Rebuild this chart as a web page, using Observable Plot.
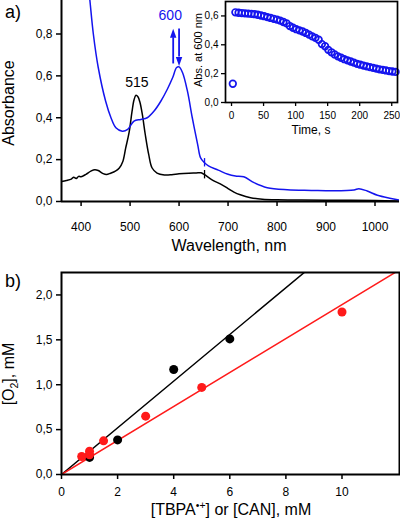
<!DOCTYPE html>
<html><head><meta charset="utf-8">
<script src="https://cdn.jsdelivr.net/npm/d3@7"></script>
<script src="https://cdn.jsdelivr.net/npm/@observablehq/plot@0.6"></script>
<style>
body{margin:0;background:#fff;font-family:"Liberation Sans",Arial,sans-serif;}
#wrap{position:relative;width:400px;height:521px;overflow:hidden;background:#fff;}
#wrap svg{position:absolute;overflow:visible;}
.t{position:absolute;white-space:nowrap;line-height:1;color:#000;font-family:"Liberation Sans",Arial,sans-serif;}
sub,sup{font-size:0.65em;line-height:0;}
</style></head><body><div id="wrap"></div>
<script>
// ---------- Panel a: spectra ----------
const wlBlack = [360,370,380,385,390,395,400,410,420,428,435,445,452,460,470,478,485,491,498,504,508,512,516,520,525,531,538,545,555,570,585,600,620,635,645,652,660,670,685,700,712,725,746,770,800,850,900,950,1000,1050];
const absBlack = [0.095,0.100,0.107,0.116,0.110,0.120,0.118,0.130,0.145,0.152,0.148,0.133,0.129,0.135,0.145,0.160,0.190,0.255,0.330,0.430,0.485,0.507,0.500,0.475,0.416,0.320,0.225,0.160,0.136,0.127,0.128,0.132,0.135,0.136,0.137,0.128,0.115,0.100,0.083,0.062,0.045,0.032,0.018,0.011,0.008,0.007,0.006,0.006,0.005,0.002];
const wlBlue = [410,418,425,435,450,461,471,484,495,508,522,535,549,563,576,587,595,600,607,617,627,638,644,652,660,680,700,715,732,753,780,821,870,916,957,967,984,1005,1030,1050];
const absBlue = [1.15,0.96,0.80,0.64,0.48,0.40,0.352,0.336,0.344,0.384,0.392,0.400,0.432,0.480,0.536,0.592,0.640,0.643,0.616,0.528,0.400,0.272,0.208,0.185,0.170,0.150,0.130,0.122,0.118,0.090,0.066,0.056,0.053,0.051,0.055,0.061,0.050,0.030,0.016,0.007];
const cutWl = [652];             // small cut marks on both spectra
const cutBlack = [0.128], cutBlue = [0.185];
const aXDomain = [360, 1050], aYDomain = [0, 0.96];
const aXTicks = [400,500,600,700,800,900,1000];
const aYTicks = [0,0.2,0.4,0.6,0.8];
const peakLabels = ["515","600"], peakLabelWl = [514, 582], peakLabelAbs = [0.566, 0.888];
const arrowWl = [588, 600], arrowFrom = [0.657, 0.824], arrowTo = [0.782, 0.690], arrowDir = [0, 180];

// ---------- Inset: Abs at 600 nm vs time ----------
const time = [2,6,11,16,21,26,31,36,41,46,51,56,61,66,71,76,81,86,91,96,101,106,111,116,121,126,131,136,141,146,151,156,161,166,171,176,181,186,191,196,201,206,211,216,221,226,231,236,241,246,251,256];
const abs600 = [0.130,0.625,0.622,0.620,0.618,0.616,0.614,0.612,0.608,0.603,0.598,0.592,0.586,0.580,0.574,0.567,0.558,0.548,0.530,0.518,0.508,0.500,0.492,0.482,0.470,0.458,0.448,0.435,0.405,0.390,0.365,0.348,0.333,0.320,0.310,0.300,0.292,0.284,0.276,0.268,0.262,0.256,0.250,0.245,0.240,0.235,0.230,0.226,0.222,0.218,0.215,0.212];
const inXDomain = [-9.4, 259], inYDomain = [0, 0.70];
const inXTicks = [0,50,100,150,200,250], inYTicks = [0,0.2,0.4,0.6];

// ---------- Panel b: O2 vs oxidant ----------
const tbpaConc = [1,1,2,4,6];
const tbpaO2 = [0.19,0.21,0.385,1.17,1.51];
const canConc = [0.72,1,1,1.5,3,5,10];
const canO2 = [0.20,0.22,0.26,0.375,0.65,0.97,1.81];
const fitConc = [0, 12];
const tbpaFit = [0, 3.12];
const canFit = [0, 2.27];
const bXDomain = [0, 12.05], bYDomain = [0, 2.25];
const bXTicks = [0,2,4,6,8,10], bYTicks = [0,0.5,1,1.5,2];

const BLUE = "#1414ee", RED = "#ff1a1a";
const comma = d => d.toFixed(1).replace(".", ",");
const plain = d => String(d);
const font = {fontFamily:"'Liberation Sans', Arial, sans-serif", fontSize:"12px", color:"#000", background:"transparent", overflow:"visible"};
const wrap = document.getElementById("wrap");
const zip = (xs, ys) => xs.map((x,i)=>({x, y: ys[i]}));

const headUp = {draw(ctx){ ctx.moveTo(0,-9); ctx.lineTo(3.2,0); ctx.lineTo(-3.2,0); ctx.closePath(); }};

const pa = Plot.plot({
  width:400, height:260, marginLeft:61, marginRight:1, marginTop:0, marginBottom:59,
  x:{domain:aXDomain}, y:{domain:aYDomain}, style:font,
  marks:[
    Plot.axisX({ticks:aXTicks, tickFormat:plain, tickSize:5, tickPadding:16, strokeWidth:1.5, label:null, fontSize:12}),
    Plot.axisY({ticks:aYTicks, tickFormat:comma, tickSize:5, tickPadding:4, strokeWidth:1.5, label:null, fontSize:12}),
    Plot.line(zip(wlBlack, absBlack), {x:"x", y:"y", stroke:"#000", strokeWidth:1.5, curve:"catmull-rom", clip:true}),
    Plot.line(zip(wlBlue, absBlue), {x:"x", y:"y", stroke:BLUE, strokeWidth:1.5, curve:"catmull-rom", clip:true}),
    Plot.ruleX(zip(cutWl, cutBlack), {x:"x", y1:d=>d.y-0.02, y2:d=>d.y+0.02, stroke:"#000", strokeWidth:1.3}),
    Plot.ruleX(zip(cutWl, cutBlue), {x:"x", y1:d=>d.y-0.02, y2:d=>d.y+0.02, stroke:BLUE, strokeWidth:1.3}),
    Plot.text(peakLabels.map((t,i)=>({t, x:peakLabelWl[i], y:peakLabelAbs[i]})), {x:"x", y:"y", text:"t", fontSize:14, fill:(d,i)=> i===0 ? "#000" : BLUE}),
    Plot.ruleX(arrowWl.map((x,i)=>({x, y1:arrowFrom[i], y2:arrowTo[i]})), {x:"x", y1:"y1", y2:"y2", stroke:BLUE, strokeWidth:1.8}),
    Plot.dot(arrowWl.map((x,i)=>({x, y:arrowTo[i], r:arrowDir[i]})), {x:"x", y:"y", symbol:headUp, r:4, fill:BLUE, stroke:"none", rotate:"r"}),
    Plot.ruleX([aXDomain[0]], {strokeWidth:2}),
    Plot.ruleY([aYDomain[0]], {strokeWidth:2})
  ]
});
pa.style.left="0px"; pa.style.top="0px";
wrap.appendChild(pa);

const pi = Plot.plot({
  width:215, height:140, marginLeft:40, marginRight:3, marginTop:1, marginBottom:38,
  x:{domain:inXDomain}, y:{domain:inYDomain}, style:{...font, fontSize:"10px"},
  marks:[
    Plot.axisX({ticks:inXTicks, tickFormat:plain, tickSize:4, tickPadding:5, strokeWidth:1.3, label:null, fontSize:10}),
    Plot.axisY({ticks:inYTicks, tickFormat:comma, tickSize:4, tickPadding:3, strokeWidth:1.3, label:null, fontSize:10}),
    Plot.dot(zip(time, abs600), {x:"x", y:"y", r:3.3, stroke:BLUE, strokeWidth:1.7, fill:"none"}),
    Plot.frame({strokeWidth:1.7})
  ]
});
pi.style.left="185px"; pi.style.top="0px";
wrap.appendChild(pi);

const pb = Plot.plot({
  width:400, height:261, marginLeft:61, marginRight:1, marginTop:12, marginBottom:47,
  x:{domain:bXDomain}, y:{domain:bYDomain}, style:font,
  marks:[
    Plot.axisX({ticks:bXTicks, tickFormat:plain, tickSize:5, tickPadding:8, strokeWidth:1.5, label:null, fontSize:12}),
    Plot.axisY({ticks:bYTicks, tickFormat:comma, tickSize:5, tickPadding:4, strokeWidth:1.5, label:null, fontSize:12}),
    Plot.line(zip(fitConc, tbpaFit), {x:"x", y:"y", stroke:"#000", strokeWidth:1.5, clip:true}),
    Plot.line(zip(fitConc, canFit), {x:"x", y:"y", stroke:RED, strokeWidth:1.5, clip:true}),
    Plot.dot(zip(tbpaConc, tbpaO2), {x:"x", y:"y", r:4.5, fill:"#000"}),
    Plot.dot(zip(canConc, canO2), {x:"x", y:"y", r:4.5, fill:RED}),
    Plot.frame({strokeWidth:2})
  ]
});
pb.style.left="0px"; pb.style.top="260px";
wrap.appendChild(pb);

function label(html, x, y, size, rot, color){
  const d = document.createElement("div");
  d.className = "t";
  d.innerHTML = html;
  d.style.left = x+"px"; d.style.top = y+"px"; d.style.fontSize = size+"px";
  if (color) d.style.color = color;
  d.style.transform = "translate(-50%,-50%)" + (rot ? " rotate(-90deg)" : "");
  wrap.appendChild(d);
}
label("a)", 13, 12, 18, false);
label("b)", 13, 281, 18, false);
label("Absorbance", 9, 103, 16, true);
label("Wavelength, nm", 229, 246, 16, false);
label("Abs. at 600 nm", 198, 50, 11, true);
label("Time, s", 311, 130, 12, false);
label("[O<sub>2</sub>], mM", 9, 374, 16, true);
label("[TBPA<sup>•+</sup>] or [CAN], mM", 231, 510, 16, false);
</script></body></html>
